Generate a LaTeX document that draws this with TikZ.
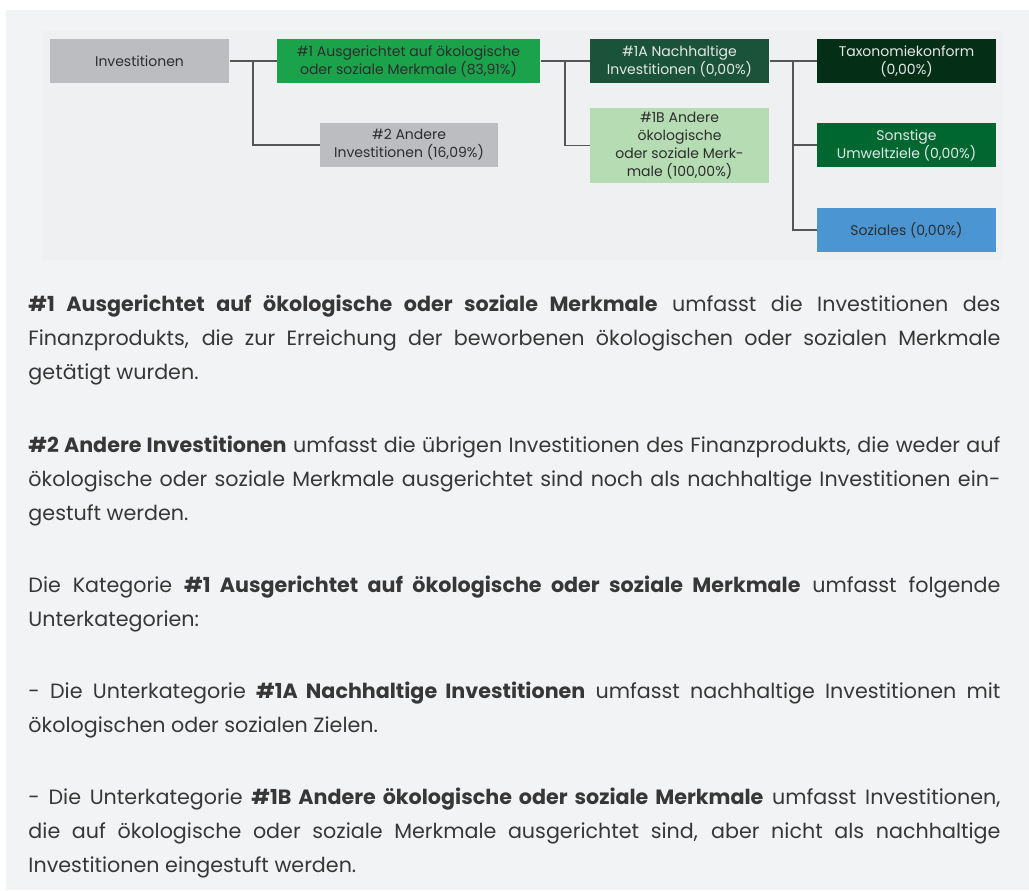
\documentclass[tikz,border=0pt]{standalone}
\usepackage{fontspec}
\setmainfont{Poppins}

\definecolor{bgouter}{RGB}{242,243,244}
\definecolor{bginner}{RGB}{239,240,241}
\definecolor{boxgrey}{RGB}{188,189,193}
\definecolor{greenmain}{RGB}{26,163,74}
\definecolor{greendark}{RGB}{27,83,58}
\definecolor{greenlight}{RGB}{181,220,178}
\definecolor{greendeep}{RGB}{5,46,22}
\definecolor{greenmid}{RGB}{0,103,48}
\definecolor{bluesoc}{RGB}{75,150,210}
\definecolor{linkgrey}{RGB}{85,85,85}
\definecolor{textdark}{RGB}{45,45,45}
\definecolor{textbody}{RGB}{55,55,55}
\definecolor{textlight}{RGB}{228,232,230}

\tikzset{every picture/.style={line width=0.75pt}}
\tikzset{
  box/.style={inner sep=0.75pt, align=center, minimum width=134.25pt, minimum height=33pt, font=\fontsize{10.5}{13.5}\selectfont, text=textdark},
  link/.style={draw=linkgrey, line width=1.1pt},
  body/.style={anchor=base west, inner sep=0pt, text width=729pt, align=justify, text=textbody, font=\fontsize{15.5}{25.5}\selectfont}
}

\begin{document}
\begin{tikzpicture}[x=0.75pt,y=0.75pt,yscale=-1,xscale=1]
\useasboundingbox (0,0) rectangle (1029,890);

%Shape: Rectangle [background]
\fill [bgouter] (6,10) rectangle (1029,890);
%Shape: Rectangle [diagram panel]
\fill [bginner] (42,31) rectangle (1003,260);

% Boxes
\draw (139.5,61) node [box, fill=boxgrey] (inv) {Investitionen};
\draw (408.5,61) node [box, fill=greenmain, minimum width=197.25pt] (ausg) {\#1 Ausgerichtet auf ökologische\\oder soziale Merkmale (83,91\%)};
\draw (409,145) node [box, fill=boxgrey, minimum width=133.5pt] (andere) {\#2 Andere\\Investitionen (16,09\%)};
\draw (679.5,61) node [box, fill=greendark, text=textlight] (nachh) {\#1A Nachhaltige\\Investitionen (0,00\%)};
\draw (679.5,145.5) node [box, fill=greenlight, minimum height=56.25pt] (sonst) {\#1B Andere\\ökologische\\oder soziale Merk-\\male (100,00\%)};
\draw (906.5,61) node [box, fill=greendeep, text=textlight] (taxo) {Taxonomiekonform\\(0,00\%)};
\draw (906.5,145) node [box, fill=greenmid, text=textlight] (umwelt) {Sonstige\\Umweltziele (0,00\%)};
\draw (906.5,230) node [box, fill=bluesoc] (sozial) {Soziales (0,00\%)};

%Straight Lines [links]
\path (inv.east) -- (ausg.west) coordinate[pos=0.5] (j1);
\draw [link] (inv.east) -- (ausg.west);
\draw [link] (j1) |- (andere.west);
\path (ausg.east) -- (nachh.west) coordinate[pos=0.5] (j2);
\draw [link] (ausg.east) -- (nachh.west);
\draw [link] (j2) |- (sonst.west);
\path (nachh.east) -- (taxo.west) coordinate[pos=0.5] (j3);
\draw [link] (nachh.east) -- (taxo.west);
\draw [link] (j3) |- (umwelt.west);
\draw [link] (j3) |- (sozial.west);

% Text Node
\draw (28,311) node [body] (para1) {\textbf{\#1 Ausgerichtet auf ökologische oder soziale Merkmale} umfasst die Investitionen des\linebreak Finanzprodukts, die zur Erreichung der beworbenen ökologischen oder sozialen Merkmale\linebreak getätigt wurden.};
% Text Node
\draw (28,452) node [body] (para2) {\textbf{\#2 Andere Investitionen} umfasst die übrigen Investitionen des Finanzprodukts, die weder auf\linebreak ökologische oder soziale Merkmale ausgerichtet sind noch als nachhaltige Investitionen ein-\linebreak gestuft werden.};
% Text Node
\draw (28,592) node [body] (para3) {Die Kategorie \textbf{\#1 Ausgerichtet auf ökologische oder soziale Merkmale} umfasst folgende\linebreak Unterkategorien:};
% Text Node
\draw (28,698) node [body] (para4) {- Die Unterkategorie \textbf{\#1A Nachhaltige Investitionen} umfasst nachhaltige Investitionen mit\linebreak ökologischen oder sozialen Zielen.};
% Text Node
\draw (28,804) node [body] (para5) {- Die Unterkategorie \textbf{\#1B Andere ökologische oder soziale Merkmale} umfasst Investitionen,\linebreak die auf ökologische oder soziale Merkmale ausgerichtet sind, aber nicht als nachhaltige\linebreak Investitionen eingestuft werden.};

\end{tikzpicture}
\end{document}
